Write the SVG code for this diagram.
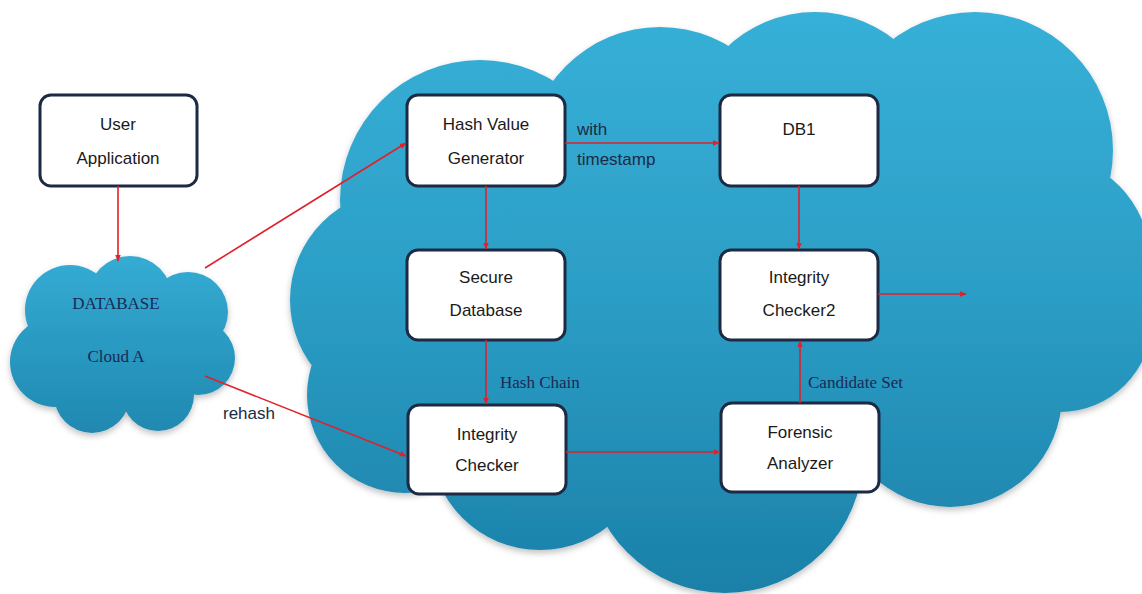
<svg xmlns="http://www.w3.org/2000/svg" width="1142" height="594" viewBox="0 0 1142 594">
<defs>
<linearGradient id="cg" gradientUnits="userSpaceOnUse" x1="0" y1="10" x2="0" y2="594">
<stop offset="0" stop-color="#37b0d8"/>
<stop offset="0.5" stop-color="#2b9dc5"/>
<stop offset="1" stop-color="#1b80a8"/>
</linearGradient>
<linearGradient id="sg" gradientUnits="userSpaceOnUse" x1="0" y1="255" x2="0" y2="435">
<stop offset="0" stop-color="#35acd4"/>
<stop offset="1" stop-color="#1f88b0"/>
</linearGradient>
<marker id="ah" viewBox="0 0 10 10" refX="9" refY="5" markerWidth="7" markerHeight="7" orient="auto" markerUnits="userSpaceOnUse">
<path d="M0,1 L10,5 L0,9 Z" fill="#e0202a"/>
</marker>
<filter id="sh" x="-10%" y="-10%" width="120%" height="125%">
<feDropShadow dx="0" dy="3" stdDeviation="3" flood-color="#000" flood-opacity="0.25"/>
</filter>
</defs>
<style>
.box{fill:#fff;stroke:#1d2a44;stroke-width:3}
.t{font-family:"Liberation Sans",Arial,sans-serif;font-size:17px;fill:#1a1a1a;text-anchor:middle}
.lbl{font-family:"Liberation Sans",Arial,sans-serif;font-size:17px;fill:#1b2b45}
.ser{font-family:"Liberation Serif","Times New Roman",serif;font-size:17px;fill:#1a2a55}
.c{stroke:#e0202a;stroke-width:1.6;fill:none;marker-end:url(#ah)}
</style>
<rect width="1142" height="594" fill="#fff"/>

<g id="big-cloud" fill="url(#cg)" filter="url(#sh)">
<circle cx="480" cy="200" r="140"/>
<circle cx="660" cy="160" r="133"/>
<circle cx="815" cy="140" r="128"/>
<circle cx="975" cy="150" r="138"/>
<circle cx="1045" cy="260" r="105"/>
<circle cx="400" cy="300" r="110"/>
<circle cx="405" cy="395" r="98"/>
<circle cx="540" cy="440" r="110"/>
<circle cx="725" cy="455" r="138"/>
<circle cx="950" cy="395" r="112"/>
<circle cx="1060" cy="320" r="92"/>
<ellipse cx="720" cy="300" rx="340" ry="200"/>
</g>

<g id="cloud-a">
<g fill="url(#sg)" filter="url(#sh)">
<circle cx="70" cy="310" r="45"/>
<circle cx="130" cy="298" r="42"/>
<circle cx="188" cy="312" r="40"/>
<circle cx="198" cy="358" r="37"/>
<circle cx="55" cy="362" r="45"/>
<circle cx="92" cy="395" r="38"/>
<circle cx="158" cy="395" r="36"/>
<ellipse cx="122" cy="350" rx="92" ry="62"/>
</g>
<text class="ser" x="116" y="309" text-anchor="middle" font-size="18">DATABASE</text>
<text class="ser" x="116" y="362" text-anchor="middle" font-size="18">Cloud A</text>
</g>

<g id="user-app">
<rect class="box" x="40" y="95" width="157" height="91" rx="11"/>
<text class="t" x="118" y="130">User</text>
<text class="t" x="118" y="164">Application</text>
</g>
<g id="hash-gen">
<rect class="box" x="407" y="95" width="158" height="91" rx="11"/>
<text class="t" x="486" y="130">Hash Value</text>
<text class="t" x="486" y="164">Generator</text>
</g>
<g id="db1">
<rect class="box" x="720" y="95" width="158" height="91" rx="11"/>
<text class="t" x="799" y="135">DB1</text>
</g>
<g id="secure-db">
<rect class="box" x="407" y="250" width="158" height="90" rx="11"/>
<text class="t" x="486" y="283">Secure</text>
<text class="t" x="486" y="316">Database</text>
</g>
<g id="ic2">
<rect class="box" x="720" y="250" width="158" height="90" rx="11"/>
<text class="t" x="799" y="283">Integrity</text>
<text class="t" x="799" y="316">Checker2</text>
</g>
<g id="ic">
<rect class="box" x="408" y="405" width="158" height="89" rx="11"/>
<text class="t" x="487" y="440">Integrity</text>
<text class="t" x="487" y="471">Checker</text>
</g>
<g id="forensic">
<rect class="box" x="721" y="403" width="158" height="89" rx="11"/>
<text class="t" x="800" y="438">Forensic</text>
<text class="t" x="800" y="469">Analyzer</text>
</g>

<g id="connectors">
<line class="c" x1="118" y1="186" x2="118" y2="261"/>
<line class="c" x1="205" y1="268" x2="406" y2="143"/>
<line class="c" x1="205" y1="376" x2="406" y2="456"/>
<line class="c" x1="565" y1="143" x2="719" y2="143"/>
<line class="c" x1="486" y1="186" x2="486" y2="249"/>
<line class="c" x1="799" y1="186" x2="799" y2="249"/>
<line class="c" x1="486" y1="340" x2="486" y2="404"/>
<line class="c" x1="566" y1="452" x2="720" y2="452"/>
<line class="c" x1="800" y1="403" x2="800" y2="341"/>
<line class="c" x1="878" y1="294" x2="966" y2="294"/>
</g>

<g id="labels">
<text class="lbl" x="223" y="419">rehash</text>
<text class="lbl" x="577" y="135">with</text>
<text class="lbl" x="577" y="165">timestamp</text>
<text class="ser" x="500" y="388">Hash Chain</text>
<text class="ser" x="808" y="388">Candidate Set</text>
</g>
</svg>
